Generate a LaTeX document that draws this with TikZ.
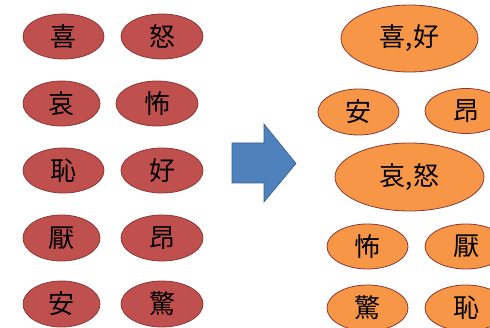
\documentclass[tikz,border=0pt]{standalone}
\usepackage{fontspec}
\newfontfamily\cjk{Noto Sans CJK JP}
\usetikzlibrary{shapes.geometric}
\definecolor{redfill}{HTML}{C0504D}
\definecolor{orangefill}{HTML}{F79646}
\definecolor{edgecol}{HTML}{8C3836}
\definecolor{bluefill}{HTML}{4F81BD}
\definecolor{blueedge}{HTML}{385D8A}
\tikzset{
  emo/.style={ellipse, draw=edgecol, line width=0.8pt, inner sep=0pt,
    font=\cjk\fontsize{26}{26}\selectfont, text=black},
  redemo/.style={emo, fill=redfill},
  orgemo/.style={emo, fill=orangefill},
}
\begin{document}
\begin{tikzpicture}[x=1pt,y=-1pt]
\useasboundingbox (0,0) rectangle (490,328);
% left
\node[redemo, minimum width=81pt, minimum height=45pt] (xi)   at (63.5,36.5) {喜};
\node[redemo, minimum width=82pt, minimum height=45pt] (nu)   at (162,36.5) {怒};
\node[redemo, minimum width=77pt, minimum height=45pt] (ai)   at (61.5,103.5) {哀};
\node[redemo, minimum width=82pt, minimum height=45pt] (bu)   at (157,103.5) {怖};
\node[redemo, minimum width=81pt, minimum height=45pt] (chi)  at (63.5,170.5) {恥};
\node[redemo, minimum width=82pt, minimum height=45pt] (hao)  at (162,170.5) {好};
\node[redemo, minimum width=77pt, minimum height=46pt] (yan)  at (61.5,238) {厭};
\node[redemo, minimum width=82pt, minimum height=46pt] (ang)  at (162,238) {昂};
\node[redemo, minimum width=77pt, minimum height=46pt] (an)   at (61.5,304) {安};
\node[redemo, minimum width=82pt, minimum height=46pt] (jing) at (162,304) {驚};
% arrow
\fill[bluefill, draw=blueedge, line width=0.6pt]
  (232,143) -- (264,143) -- (264,124) -- (296,163.5) -- (264,202) -- (264,183) -- (232,183) -- cycle;
% right
\node[orgemo, minimum width=137pt, minimum height=67pt] (rxh)  at (409.5,38.5) {喜,好};
\node[orgemo, minimum width=81pt, minimum height=46pt]  (ran)  at (358.5,112) {安};
\node[orgemo, minimum width=82pt, minimum height=45pt]  (rang) at (466,111) {昂};
\node[orgemo, minimum width=149pt, minimum height=68pt] (ran2) at (409.5,177) {哀,怒};
\node[orgemo, minimum width=81pt, minimum height=45pt]  (rbu)  at (367.5,246.5) {怖};
\node[orgemo, minimum width=82pt, minimum height=45pt]  (ryan) at (466,246.5) {厭};
\node[orgemo, minimum width=81pt, minimum height=46pt]  (rjing) at (367.5,308) {驚};
\node[orgemo, minimum width=82pt, minimum height=46pt]  (rchi) at (466,308) {恥};
\end{tikzpicture}
\end{document}
